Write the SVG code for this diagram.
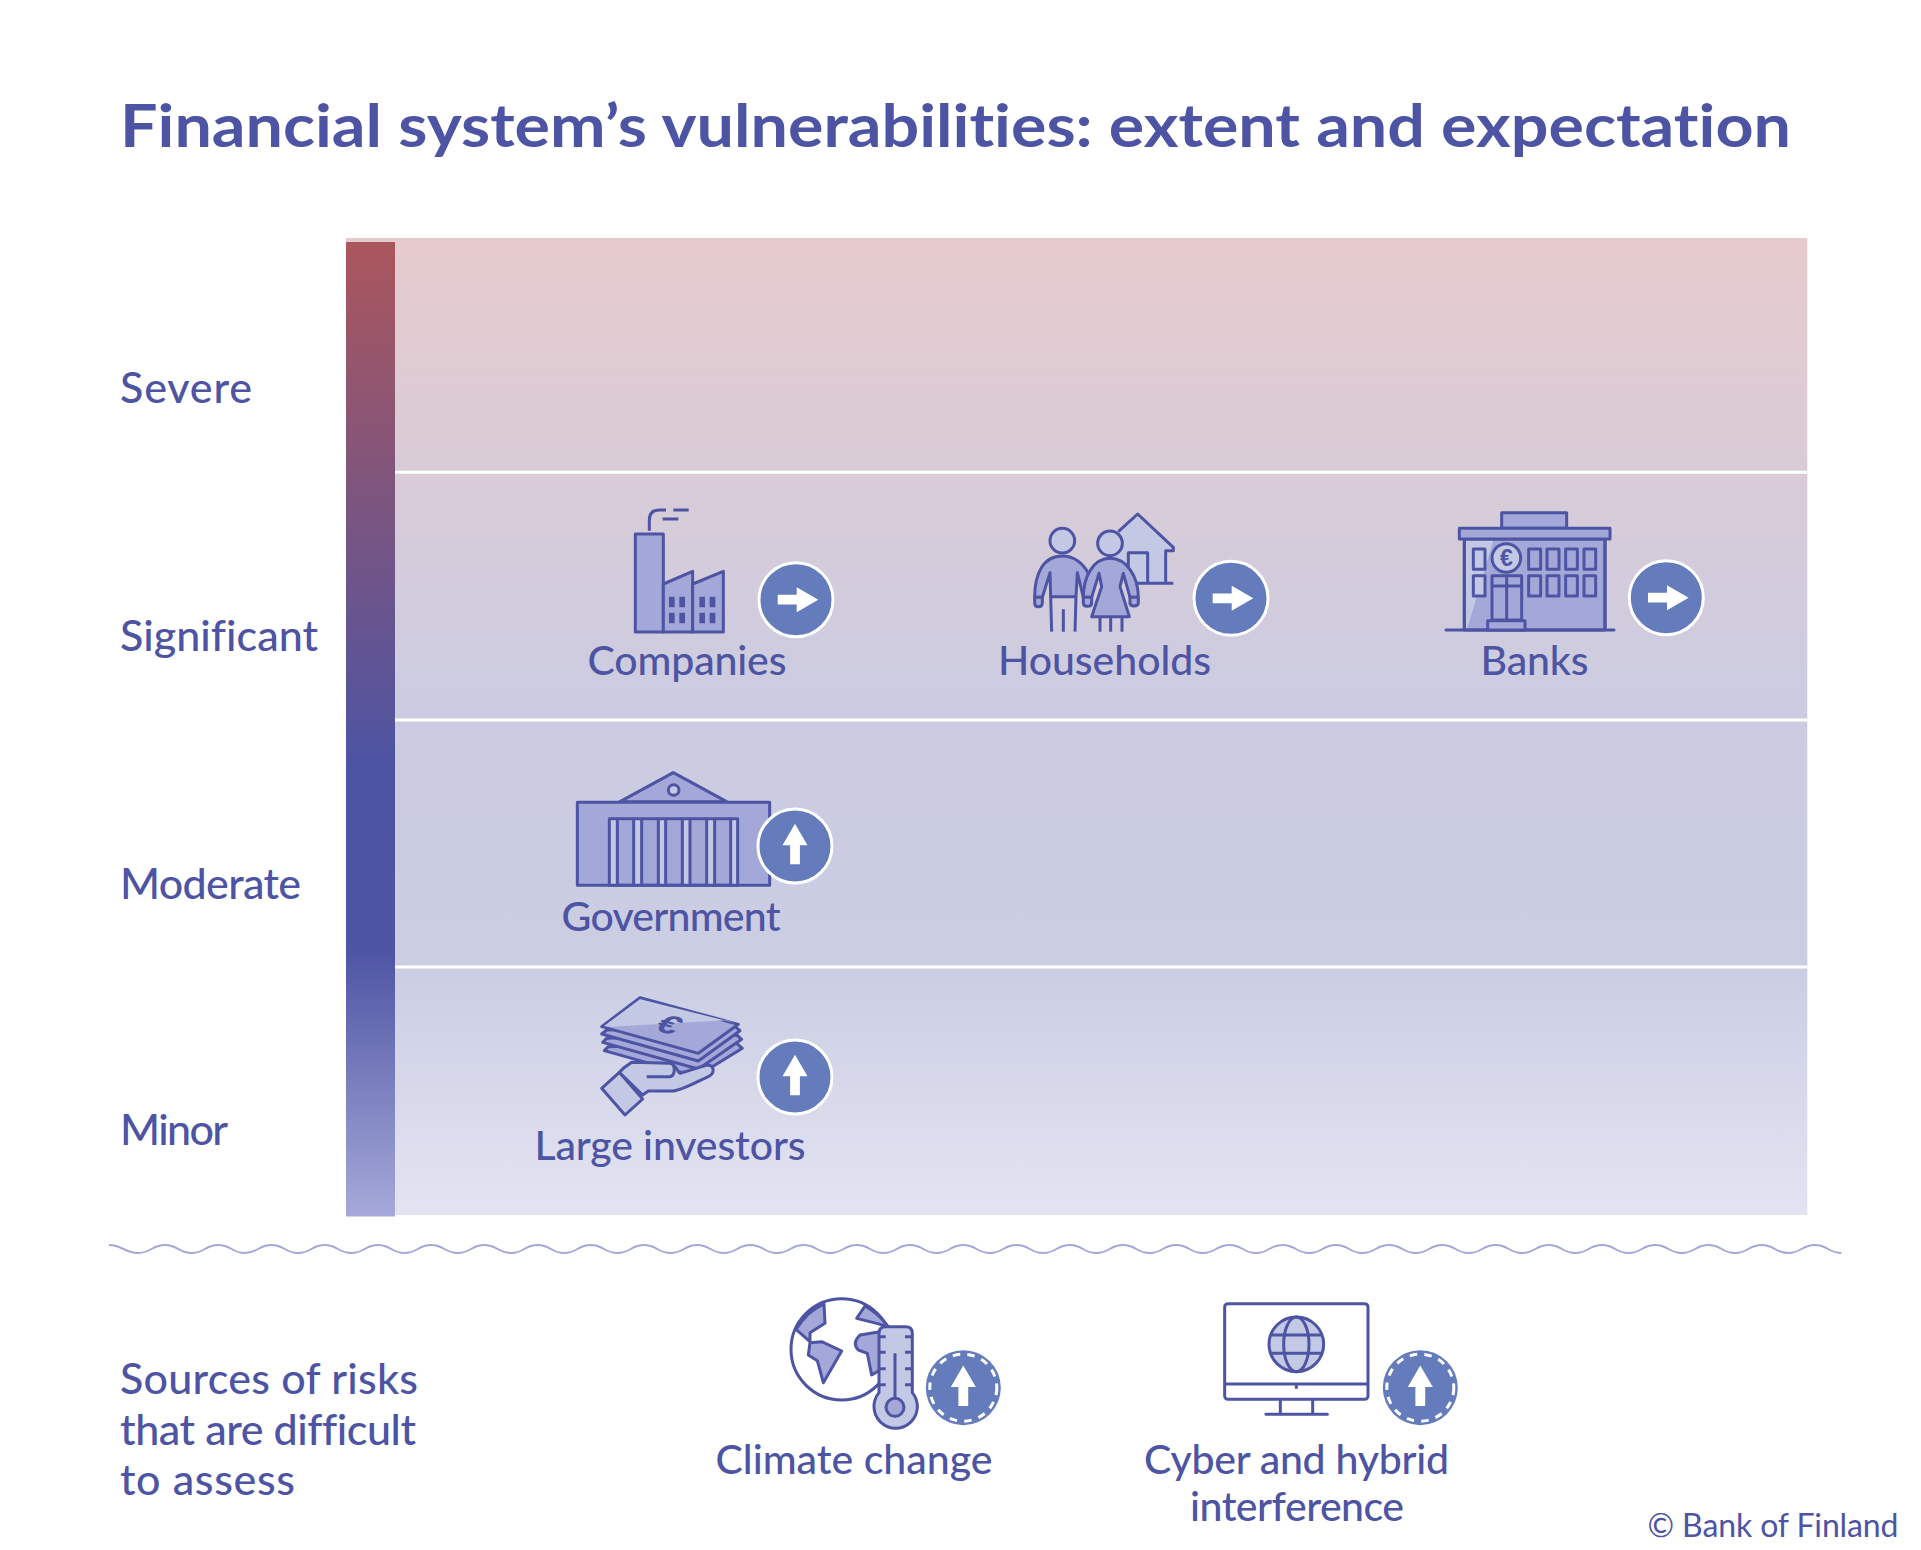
<svg xmlns="http://www.w3.org/2000/svg" xmlns:xlink="http://www.w3.org/1999/xlink" width="1921" height="1550" viewBox="0 0 1921 1550">
<style>
text{font-family:"Lato","Open Sans","Liberation Sans",sans-serif;fill:#4d54a3;font-size:41px;font-weight:500;font-variant-ligatures:none}
.title{font-size:60px;font-weight:700}
.lab{font-size:43px}
.ic{stroke:#4d54a3;stroke-width:9;stroke-linejoin:round;fill:none;stroke-linecap:butt}
.d{fill:#a4a8d8}.l{fill:#c3c9e4}.w{fill:#fff}
.nf{fill:#4d54a3;stroke:none}
.band{stroke:#fff;stroke-width:3}
</style>
<defs>
<linearGradient id="panel" x1="0" y1="0" x2="0" y2="1">
<stop offset="0" stop-color="#e6cbcd"/><stop offset=".496" stop-color="#cbcce2"/><stop offset=".75" stop-color="#cbcde3"/><stop offset="1" stop-color="#e3e4f2"/>
</linearGradient>
<linearGradient id="bar" x1="0" y1="0" x2="0" y2="1">
<stop offset="0" stop-color="#ab565c"/><stop offset=".535" stop-color="#4d54a3"/><stop offset=".725" stop-color="#4d54a3"/><stop offset="1" stop-color="#a6a9d9"/>
</linearGradient>
<path id="arw" d="M-18.300-4.900H.7V-12.500L22.300 0 .7 12.500V4.900H-18.300Z" fill="#fff"/>
<g id="right"><circle r="37" fill="#647cbc" stroke="#fff" stroke-width="3"/><use xlink:href="#arw" href="#arw"/></g>
<g id="up"><circle r="37" fill="#647cbc" stroke="#fff" stroke-width="3"/><use xlink:href="#arw" href="#arw" transform="rotate(-90)"/></g>
<g id="updash"><circle r="37.500" fill="#647cbc"/><circle r="33.500" fill="none" stroke="#fff" stroke-width="3" stroke-dasharray="7.500 7.200"/><use xlink:href="#arw" href="#arw" transform="rotate(-90)"/></g>
</defs>
<rect width="1921" height="1550" fill="#fff"/>

<text class="title" x="120" y="147" textLength="1671" lengthAdjust="spacingAndGlyphs">Financial system’s vulnerabilities: extent and expectation</text>

<g id="chart">
<rect x="346" y="238" width="1461.300" height="977" fill="url(#panel)"/>
<rect x="346" y="242" width="49" height="974.500" fill="url(#bar)"/>
<line class="band" x1="395" y1="472.300" x2="1807.300" y2="472.300"/>
<line class="band" x1="395" y1="720" x2="1807.300" y2="720"/>
<line class="band" x1="395" y1="967" x2="1807.300" y2="967"/>
</g>

<g id="levels">
<text class="lab" x="120" y="403" textLength="132">Severe</text>
<text class="lab" x="120" y="651" textLength="198">Significant</text>
<text class="lab" x="120" y="899" textLength="181">Moderate</text>
<text class="lab" x="120" y="1145" textLength="108">Minor</text>
</g>

<path id="wave" fill="none" stroke="#a4a8d8" stroke-width="2" d="M109 1245c13 0 16 8 29 8s14-8 27-8 s13.300 8 26.610 8s13.300-8 26.610-8 s13.300 8 26.610 8s13.300-8 26.610-8 s13.300 8 26.610 8s13.300-8 26.610-8 s13.300 8 26.610 8s13.300-8 26.610-8 s13.300 8 26.610 8s13.300-8 26.610-8 s13.300 8 26.610 8s13.300-8 26.610-8 s13.300 8 26.610 8s13.300-8 26.610-8 s13.300 8 26.610 8s13.300-8 26.610-8 s13.300 8 26.610 8s13.300-8 26.610-8 s13.300 8 26.610 8s13.300-8 26.610-8 s13.300 8 26.610 8s13.300-8 26.610-8 s13.300 8 26.610 8s13.300-8 26.610-8 s13.300 8 26.610 8s13.300-8 26.610-8 s13.300 8 26.610 8s13.300-8 26.610-8 s13.300 8 26.610 8s13.300-8 26.610-8 s13.300 8 26.610 8s13.300-8 26.610-8 s13.300 8 26.610 8s13.300-8 26.610-8 s13.300 8 26.610 8s13.300-8 26.610-8 s13.300 8 26.610 8s13.300-8 26.610-8 s13.300 8 26.610 8s13.300-8 26.610-8 s13.300 8 26.610 8s13.300-8 26.610-8 s13.300 8 26.610 8s13.300-8 26.610-8 s13.300 8 26.610 8s13.300-8 26.610-8 s13.300 8 26.610 8s13.300-8 26.610-8 s13.300 8 26.610 8s13.300-8 26.610-8 s13.300 8 26.610 8s13.300-8 26.610-8 s13.300 8 26.610 8s13.300-8 26.610-8 s13.300 8 26.610 8s13.300-8 26.610-8 s13.300 8 26.610 8s13.300-8 26.610-8 s13.300 8 26.610 8s13.300-8 26.610-8 s13.300 8 26.610 8s13.300-8 26.610-8 s13.300 8 26.610 8"/>

<g id="companies">
<g class="ic" transform="translate(560 490) scale(.33333)">
<path class="d" d="M226 132H310V426H226Z"/>
<path class="d" d="M310 282L398 244V426H310Z"/>
<path class="d" d="M398 282L490 244V426H398Z"/>
<path d="M268 122V90Q268 60 298 60H318M340 60H386M308 87H355"/>
<path class="nf" d="M327 320h17v32h-17zM358 320h17v32h-17zM327 368h17v32h-17zM358 368h17v32h-17zM418 320h17v32h-17zM449 320h17v32h-17zM418 368h17v32h-17zM449 368h17v32h-17z"/>
</g>
<use xlink:href="#right" href="#right" x="796" y="599.700"/>
<text x="587.500" y="675" textLength="199">Companies</text>
</g>

<g id="households">
<g class="ic" transform="translate(1000 490) scale(.33333)">
<path class="l" d="M355 125L413 72L520 172V182H497V280H340V125Z" stroke="none"/>
<path d="M355 125L413 72L520 172V182H497V280M520 280H410"/>
<path d="M385 240V188H443V280"/>
<circle class="l" cx="187" cy="152" r="37"/>
<path class="d" d="M104 322C104 250 130 198 187 198C222 198 250 220 265 250L250 322L232 248L228 320H152L150 248L127 322Z"/>
<path d="M152 320L155 425M228 320L225 425M190 358V425"/>
<path class="d" d="M104 322H127V338Q127 350 115 350Q104 350 104 338Z"/>
<path class="d" d="M250 322C250 260 280 205 330 205C380 205 415 260 415 322H390L370 250L360 290L388 380H275L305 290L297 250L275 322Z"/>
<path class="d" d="M250 322H275V338Q275 349 262 349Q250 349 250 338Z"/>
<path class="d" d="M390 322H415V338Q415 348 402 348Q390 348 390 338Z"/>
<path d="M300 380V425M332 380V425M366 380V425"/>
<circle class="l" cx="330" cy="160" r="37"/>
</g>
<use xlink:href="#right" href="#right" x="1231" y="598.300"/>
<text x="998" y="675" textLength="213">Households</text>
</g>

<g id="banks">
<g class="ic" transform="translate(1430 490) scale(.33333)">
<rect class="d" x="215" y="68" width="195" height="47"/>
<rect class="d" x="103" y="147" width="422" height="273"/>
<path class="l" stroke="none" d="M108 152H190L112 415H108Z"/>
<path d="M103 147V420M525 147V420"/>
<rect class="d" x="88" y="115" width="452" height="32"/>
<path d="M48 420H552" stroke-linecap="round"/>
<rect class="l" x="130" y="177" width="35" height="61"/><rect class="l" x="130" y="257" width="35" height="61"/>
<rect class="d" x="296" y="177" width="36" height="61"/><rect class="d" x="351" y="177" width="36" height="61"/><rect class="d" x="407" y="177" width="35" height="61"/><rect class="d" x="462" y="177" width="35" height="61"/>
<rect class="d" x="296" y="257" width="36" height="61"/><rect class="d" x="351" y="257" width="36" height="61"/><rect class="d" x="407" y="257" width="35" height="61"/><rect class="d" x="462" y="257" width="35" height="61"/>
<circle class="l" cx="229" cy="204" r="43"/>
<rect class="d" x="186" y="257" width="89" height="133"/>
<path d="M186 288H275M230 257V390"/>
<rect class="d" x="173" y="392" width="112" height="28"/>
</g>
<text x="1506.300" y="566" text-anchor="middle" style="font-size:23px;font-weight:700;font-family:'Liberation Sans',sans-serif">€</text>
<use xlink:href="#right" href="#right" x="1666.300" y="597.700"/>
<text x="1480.500" y="675" textLength="108">Banks</text>
</g>

<g id="government">
<g class="ic" transform="translate(560 760) scale(.33333)">
<path class="d" d="M180 125L340 38L500 125Z"/>
<circle class="l" cx="341" cy="90" r="16"/>
<rect class="d" x="52" y="127" width="577" height="249"/>
<path class="l" stroke="none" d="M148 176h24v200h-24zM221 176h24v200h-24zM295 176h22v200h-22zM367 176h23v200h-23zM440 176h24v200h-24zM512 176h21v200h-21z"/>
<rect x="148" y="176" width="385" height="200"/>
<path d="M172 176V376M221 176V376M245 176V376M295 176V376M317 176V376M367 176V376M390 176V376M440 176V376M464 176V376M512 176V376"/>
</g>
<use xlink:href="#up" href="#up" x="795" y="846"/>
<text x="561.500" y="931" textLength="219">Government</text>
</g>

<g id="investors">
<g class="ic" transform="translate(560 985) scale(.33333)">
<path class="d" d="M145 185L133 197L365 262H430L547 190L530 175Z"/>
<path class="d" d="M140 160L128 172L415 252L545 163L530 150Z"/>
<path class="d" d="M140 135L125 147L415 228L540 137L525 125Z"/>
<path class="d" d="M240 38L535 118L415 205L125 125Z"/>
<path class="l" stroke="none" d="M240 43L526 114L500 106L153 125L132 123Z"/>
<path class="l" d="M125 310L178 262L248 342L195 390Z"/>
<path class="l" d="M190 250L215 232L330 235C350 240 355 265 360 265L440 240C465 240 465 265 445 275C420 285 370 315 340 318H265L248 330L178 262Z"/>
<path d="M260 275H330C345 272 345 250 340 240"/>
</g>
<text text-anchor="middle" y="11" transform="translate(669 1025) rotate(15) skewX(-25) scale(1.1 .8)" style="font-size:34px;font-weight:700;font-family:'Liberation Sans',sans-serif">€</text>
<use xlink:href="#up" href="#up" x="795" y="1077"/>
<text x="534.500" y="1160" textLength="271">Large investors</text>
</g>

<g id="risk-label">
<text class="lab" x="120" y="1394" textLength="298">Sources of risks</text>
<text class="lab" x="120" y="1445" textLength="296">that are difficult</text>
<text class="lab" x="120" y="1495" textLength="175">to assess</text>
</g>

<g id="climate">
<g class="ic" transform="translate(780 1290) scale(.33333)">
<circle class="w" cx="185" cy="178" r="152"/>
<path class="d" d="M48 118Q85 60 132 42L135 100L90 128V155Z"/>
<path class="d" d="M90 158L125 155L185 183L130 278L112 212L85 195Z"/>
<path class="d" d="M255 48L230 85L290 100L325 110Q295 70 255 48Z"/>
<path class="d" d="M240 135L300 125V240L275 255L262 190L235 180Q215 160 240 135Z"/>
<path class="l" d="M297 130Q297 110 317 110H377Q397 110 397 130V308A65 65 0 1 1 297 308Z"/>
<path d="M345 190V330M297 140H317M375 140H397M297 187H317M375 187H397M297 236H317M375 236H397M297 284H317M375 284H397"/>
<circle class="d" cx="345" cy="352" r="27"/>
</g>
<use xlink:href="#updash" href="#updash" x="963.300" y="1387.700"/>
<text x="715.500" y="1474" textLength="277">Climate change</text>
</g>

<g id="cyber">
<g class="ic" transform="translate(1210 1290) scale(.33333)">
<rect class="w" x="44" y="41" width="430" height="287" rx="10"/>
<path d="M44 282H474M259 282V296M211 328V372M308 328V372"/>
<path d="M168 373H352" stroke-linecap="round"/>
<circle class="l" cx="259" cy="163" r="82"/>
<ellipse cx="259" cy="163" rx="38" ry="82"/>
<path d="M185 135H333M185 190H333"/>
</g>
<use xlink:href="#updash" href="#updash" x="1420.300" y="1387.700"/>
<text x="1144" y="1474" textLength="305">Cyber and hybrid</text>
<text x="1190" y="1521" textLength="214">interference</text>
</g>

<text id="credit" x="1647.500" y="1537" textLength="251" style="font-size:32px;font-weight:400">© Bank of Finland</text>
</svg>
